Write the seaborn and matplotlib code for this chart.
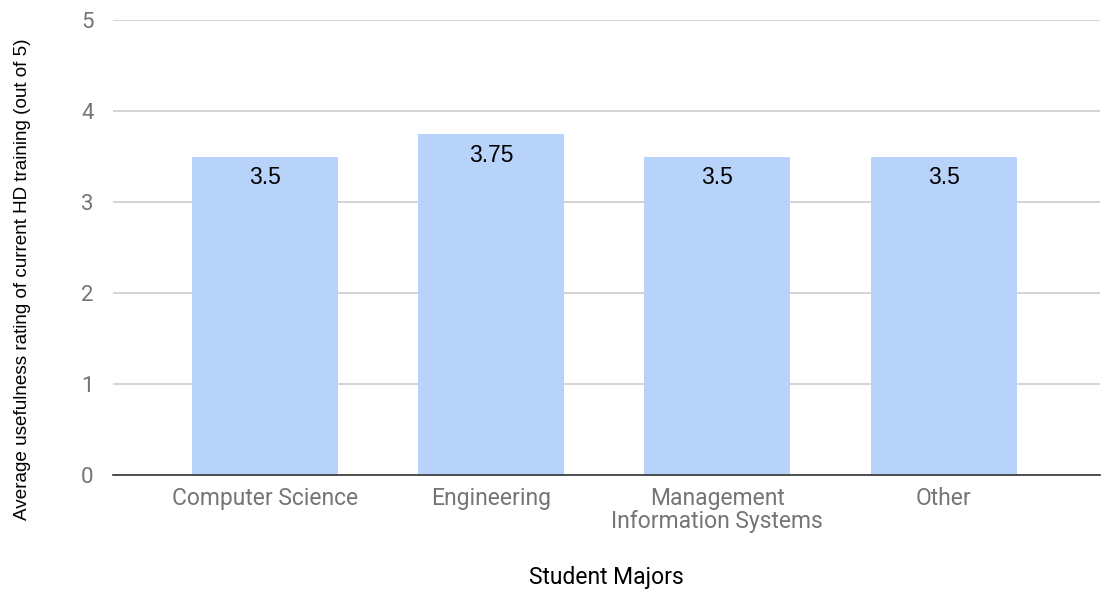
import matplotlib
matplotlib.use("Agg")
import matplotlib.pyplot as plt
import seaborn as sns
import pandas as pd

categories = ["Computer Science", "Engineering", "Management\nInformation Systems", "Other"]
values = [3.5, 3.75, 3.5, 3.5]
value_labels = ["3.5", "3.75", "3.5", "3.5"]
yticks = [0, 1, 2, 3, 4, 5]

sns.set_theme(style="white")
plt.rcParams['font.family'] = ['Roboto', 'DejaVu Sans']

df = pd.DataFrame({"major": categories, "rating": values})

fig = plt.figure(figsize=(11.03, 6.03), dpi=100)
ax = fig.add_axes([0.1025, 0.2123, 0.8945, 0.7545])

sns.barplot(data=df, x="major", y="rating", color="#b7d3f9", saturation=1,
            width=0.645, ax=ax, zorder=3, edgecolor="none")

ax.set_ylim(0, 5)
ax.set_xlim(-0.67, 3.69)
ax.set_yticks(yticks)
ax.set_yticklabels([str(t) for t in yticks])
ax.grid(axis="y", color="#cccccc", linewidth=1.2, zorder=0)
ax.grid(axis="x", visible=False)
for s in ["top", "right", "left"]:
    ax.spines[s].set_visible(False)
ax.spines["bottom"].set_color("#333333")
ax.spines["bottom"].set_linewidth(1.2)
ax.spines["bottom"].set_zorder(4)

ax.tick_params(axis="y", length=0, pad=14, labelsize=16, labelcolor="#757575")
ax.tick_params(axis="x", length=0, pad=9, labelsize=16.5, labelcolor="#757575")
for lab in ax.get_xticklabels():
    lab.set_linespacing(1.0)

for i, (v, t) in enumerate(zip(values, value_labels)):
    ax.text(i, v - 0.235, t, ha="center", va="center", fontsize=16.5,
            family=["Liberation Sans", "DejaVu Sans"], color="#000000", zorder=5)

ax.set_xlabel("Student Majors", fontsize=16.5, color="#000000")
ax.xaxis.set_label_coords(0.4995, -0.2)
ax.set_ylabel("Average usefulness rating of current HD training (out of 5)", fontsize=13.6,
              family=["Liberation Sans", "DejaVu Sans"], color="#000000")
ax.yaxis.set_label_coords(-0.083, 0.431)

fig.savefig("out.png", dpi=100)
